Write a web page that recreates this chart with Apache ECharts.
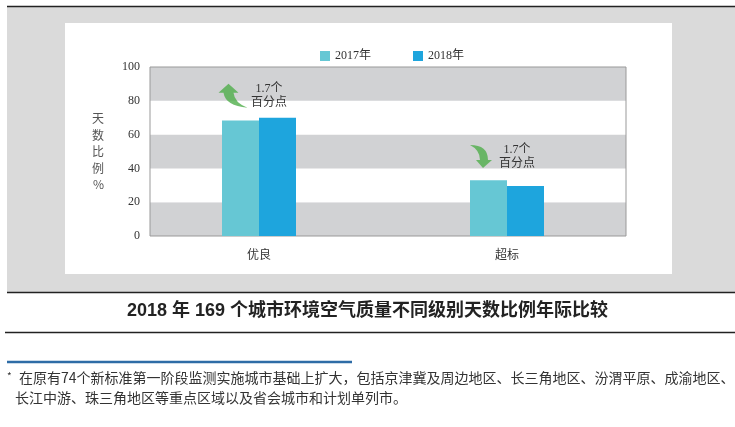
<!DOCTYPE html>
<html>
<head>
<meta charset="utf-8">
<script src="https://cdn.jsdelivr.net/npm/echarts@6/dist/echarts.min.js"></script>
<style>
html,body{margin:0;padding:0;background:#fff;}
#chart{width:735px;height:427px;}
</style>
</head>
<body>
<div id="chart"></div>
<script>
const categories = ['优良', '超标'];
const seriesNames = ['2017年', '2018年'];
const values2017 = [68.3, 33.0];
const values2018 = [70.0, 29.6];
const changeLabels = ['1.7个\n百分点', '1.7个\n百分点'];
const yMin = 0, yMax = 100, yInterval = 20;
const chartTitle = '2018 年 169 个城市环境空气质量不同级别天数比例年际比较';
const footLine1 = '在原有74个新标准第一阶段监测实施城市基础上扩大，包括京津冀及周边地区、长三角地区、汾渭平原、成渝地区、';
const footLine2 = '长江中游、珠三角地区等重点区域以及省会城市和计划单列市。';

const serifFont = '"Liberation Serif", "Noto Sans CJK SC", serif';
const cjkFont = '"Noto Sans CJK SC", sans-serif';
const upArrow = 'path://M10 0 L20 9 L15 9 Q16 19 29 24 Q7 22 5 9 L0 9 Z';
const downArrow = 'path://M0 0 Q18 0 18 15 L22 15 L13 23 L6 15 L10 15 Q10 5 0 0 Z';

const chart = echarts.init(document.getElementById('chart'), null, {renderer: 'canvas'});
chart.setOption({
  animation: false,
  backgroundColor: '#ffffff',
  textStyle: {fontFamily: serifFont},
  title: [
    {text: chartTitle, left: 'center', top: 302, padding: 0,
     textStyle: {fontFamily: '"Liberation Sans", "Noto Sans CJK SC", sans-serif', fontSize: 18, fontWeight: 'bold', color: '#222'}},
    {text: '{s|*}' + footLine1, left: 7, top: 371, padding: 0,
     textStyle: {fontFamily: cjkFont, fontSize: 14, fontWeight: 'normal', color: '#333',
       rich: {s: {fontSize: 10, width: 12, verticalAlign: 'top', color: '#333', fontFamily: cjkFont}}}},
    {text: footLine2, left: 15, top: 391, padding: 0,
     textStyle: {fontFamily: cjkFont, fontSize: 14, fontWeight: 'normal', color: '#333'}}
  ],
  graphic: [
    {type: 'rect', z: -100, silent: true, shape: {x: 7, y: 6, width: 728, height: 286}, style: {fill: '#dadada'}},
    {type: 'rect', z: -99, silent: true, shape: {x: 65, y: 23, width: 607, height: 251}, style: {fill: '#ffffff'}},
    {type: 'line', z: 100, silent: true, shape: {x1: 7, y1: 6.5, x2: 735, y2: 6.5}, style: {stroke: '#222', lineWidth: 1.5}},
    {type: 'line', z: 100, silent: true, shape: {x1: 7, y1: 292.5, x2: 735, y2: 292.5}, style: {stroke: '#222', lineWidth: 1.5}},
    {type: 'line', z: 100, silent: true, shape: {x1: 5, y1: 332.5, x2: 735, y2: 332.5}, style: {stroke: '#222', lineWidth: 1.5}},
    {type: 'line', z: 100, silent: true, shape: {x1: 7, y1: 362, x2: 352, y2: 362}, style: {stroke: '#2e6ca6', lineWidth: 2.5}}
  ],
  legend: {
    data: seriesNames, left: 315, top: 45, itemWidth: 10, itemHeight: 10, itemGap: 42, icon: 'rect',
    textStyle: {fontFamily: serifFont, fontSize: 12, color: '#333'}
  },
  grid: [
    {left: 150, top: 67, width: 476, height: 169, show: true, backgroundColor: 'transparent', borderColor: '#999', borderWidth: 1, z: 1},
    {left: 135, top: 67, width: 496, height: 169}
  ],
  xAxis: [
    {type: 'category', gridIndex: 0, data: categories, show: false},
    {type: 'category', gridIndex: 1, data: categories,
     axisLine: {show: false}, axisTick: {show: false},
     axisLabel: {margin: 12, fontSize: 12, color: '#333', fontFamily: cjkFont}}
  ],
  yAxis: [
    {type: 'value', gridIndex: 0, min: yMin, max: yMax, interval: yInterval, z: 0,
     axisLine: {show: false}, axisTick: {show: false}, splitLine: {show: false},
     splitArea: {show: true, areaStyle: {color: ['#d1d2d4', '#ffffff']}},
     axisLabel: {margin: 10, fontSize: 12, color: '#333', fontFamily: serifFont},
     name: '天\n数\n比\n例\n%', nameLocation: 'middle', nameGap: 46, nameRotate: 0,
     nameTextStyle: {fontFamily: cjkFont, fontSize: 12, color: '#555', lineHeight: 16.5}},
    {type: 'value', gridIndex: 1, min: yMin, max: yMax, interval: yInterval, show: false, splitLine: {show: false}}
  ],
  series: [
    {name: seriesNames[0], type: 'bar', xAxisIndex: 1, yAxisIndex: 1, data: values2017,
     barWidth: 37, barGap: '0%', itemStyle: {color: '#66c7d4'}, z: 3},
    {name: seriesNames[1], type: 'bar', xAxisIndex: 1, yAxisIndex: 1, data: values2018,
     barWidth: 37, barGap: '0%', itemStyle: {color: '#1ea5dd'}, z: 3},
    {type: 'scatter', xAxisIndex: 1, yAxisIndex: 1, silent: true, z: 4,
     symbolOffset: [-26, 0], itemStyle: {color: '#4fae4a'},
     data: [
       {value: [0, 83], symbol: upArrow, symbolSize: [29, 24]},
       {value: [1, 47], symbol: downArrow, symbolSize: [22, 23]}
     ]},
    {type: 'scatter', xAxisIndex: 1, yAxisIndex: 1, silent: true, z: 5,
     symbolSize: 0, itemStyle: {opacity: 0},
     label: {show: true, position: 'inside', offset: [10, 0],
       formatter: p => changeLabels[p.dataIndex],
       fontFamily: serifFont, fontSize: 12, lineHeight: 14, color: '#333', opacity: 1},
     data: [[0, 83], [1, 47]]}
  ]
});
</script>
</body>
</html>
